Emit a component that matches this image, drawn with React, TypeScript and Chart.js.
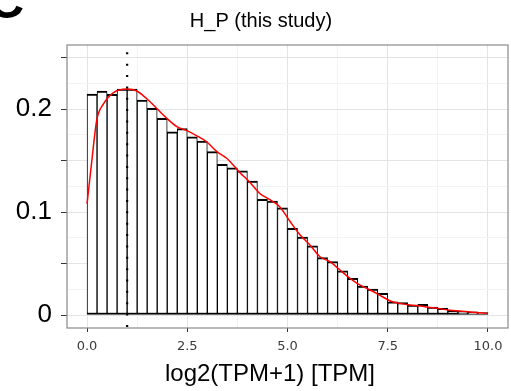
import { useEffect, useRef } from 'react';
import { Chart, registerables } from 'chart.js';

Chart.register(...registerables);

// ---- data ----
const BIN_WIDTH = 0.25;
const BIN_START = 0;
const binDensity = [
  0.2146, 0.2175, 0.2143, 0.2194, 0.2194, 0.2087, 0.2006, 0.1910, 0.1780, 0.1810,
  0.1730, 0.1690, 0.1586, 0.1463, 0.1430, 0.1400, 0.1300, 0.1123, 0.1107, 0.1042,
  0.0841, 0.0757, 0.0673, 0.0557, 0.0518, 0.0430, 0.0356, 0.0282, 0.0252, 0.0210,
  0.0129, 0.0120, 0.0097, 0.0104, 0.0078, 0.0065, 0.0046, 0.0036, 0.0030, 0.0023,
];
const densityX = [
  0, 0.12, 0.24, 0.41, 0.66, 1.0, 1.24, 1.49, 1.74, 1.99, 2.24, 2.49, 2.74, 2.99,
  3.24, 3.49, 3.82, 4.06, 4.31, 4.56, 4.81, 5.06, 5.31, 5.56, 5.81, 6.06, 6.31,
  6.56, 6.81, 7.06, 7.3, 7.55, 7.8, 8.05, 8.3, 8.55, 8.8, 9.05, 9.3, 9.55, 10,
];
const densityY = [
  0.108, 0.150, 0.189, 0.205, 0.216, 0.2194, 0.2175, 0.210, 0.2006, 0.191, 0.183,
  0.179, 0.174, 0.168, 0.1586, 0.152, 0.138, 0.129, 0.118, 0.112, 0.105, 0.091,
  0.078, 0.068, 0.0566, 0.0518, 0.0437, 0.0356, 0.029, 0.0243, 0.0194, 0.0139,
  0.0113, 0.0097, 0.0087, 0.0074, 0.0061, 0.0046, 0.0039, 0.003, 0.0016,
];
const vlineX = 1.0;

const xGridValues = [0, 1.25, 2.5, 3.75, 5, 6.25, 7.5, 8.75, 10];
const xTickValues = [0, 2.5, 5, 7.5, 10];
const xTickLabels = ['0.0', '2.5', '5.0', '7.5', '10.0'];
const yGridValues = [0, 0.025, 0.05, 0.075, 0.1, 0.125, 0.15, 0.175, 0.2, 0.225, 0.25];
const yTickValues = [0, 0.05, 0.1, 0.15, 0.2, 0.25];
const yLabelValues = [0, 0.1, 0.2];
const yLabelTexts = ['0', '0.1', '0.2'];

const X_MIN = -0.5;
const X_MAX = 10.5;
const Y_MIN = -0.0126;
const Y_MAX = 0.2622;

const TITLE = 'H_P (this study)';
const X_TITLE = 'log2(TPM+1) [TPM]';
const PANEL_LETTER = 'C';

const near = (a: number, b: number) => Math.abs(a - b) < 1e-6;
const inList = (v: number, list: number[]) => list.some((t) => near(t, v));

export default function App() {
  const ref = useRef<HTMLCanvasElement | null>(null);

  useEffect(() => {
    if (!ref.current) return;
    const bars = binDensity.map((v, i) => ({ x: BIN_START + (i + 0.5) * BIN_WIDTH, y: v }));
    const curve = densityX.map((x, i) => ({ x, y: densityY[i] }));

    const decor = {
      id: 'decor',
      afterDatasetsDraw(chart: any) {
        const { ctx, chartArea } = chart;
        ctx.save();
        ctx.strokeStyle = '#8a8a8a';
        ctx.lineWidth = 1.2;
        ctx.strokeRect(chartArea.left, chartArea.top, chartArea.right - chartArea.left, chartArea.bottom - chartArea.top);
        ctx.restore();
      },
      afterDraw(chart: any) {
        const { ctx } = chart;
        ctx.save();
        ctx.fillStyle = '#000';
        ctx.textAlign = 'center';
        ctx.textBaseline = 'alphabetic';
        ctx.font = '20px "Liberation Sans", Arial, sans-serif';
        ctx.fillText(TITLE, 261, 27);
        ctx.textBaseline = 'middle';
        ctx.font = '24px "Liberation Sans", Arial, sans-serif';
        ctx.fillText(X_TITLE, 270, 374);
        ctx.textAlign = 'left';
        ctx.textBaseline = 'alphabetic';
        ctx.font = 'bold 50px "Liberation Sans", Arial, sans-serif';
        ctx.fillText(PANEL_LETTER, -12, 18);
        ctx.restore();
      },
    };

    const chart = new Chart(ref.current, {
      type: 'bar',
      data: {
        datasets: [
          {
            type: 'line',
            data: [{ x: vlineX, y: Y_MAX }, { x: vlineX, y: Y_MIN }],
            borderColor: '#000',
            borderWidth: 2.2,
            borderDash: [2, 9.36],
            borderDashOffset: 4.06,
            pointRadius: 0,
            tension: 0,
            order: 1,
          } as any,
          {
            type: 'line',
            data: curve,
            borderColor: '#ff0000',
            borderWidth: 1.5,
            pointRadius: 0,
            cubicInterpolationMode: 'monotone',
            fill: false,
            order: 2,
          } as any,
          {
            type: 'bar',
            data: bars,
            backgroundColor: '#ffffff',
            borderColor: '#000000',
            borderWidth: { top: 2, bottom: 2, left: 1, right: 1 },
            borderSkipped: false,
            barPercentage: 1,
            categoryPercentage: 1,
            order: 3,
          } as any,
        ],
      },
      options: {
        animation: false,
        responsive: false,
        maintainAspectRatio: false,
        layout: { padding: { left: 0, top: 45, right: 3, bottom: 0 } },
        plugins: { legend: { display: false }, tooltip: { enabled: false }, title: { display: false } },
        scales: {
          x: {
            type: 'linear',
            min: X_MIN,
            max: X_MAX,
            offset: false,
            afterBuildTicks: (s: any) => {
              s.ticks = xGridValues.map((v) => ({ value: v }));
            },
            afterFit: (s: any) => {
              s.height = 63;
            },
            grid: {
              offset: false,
              drawTicks: true,
              tickLength: 4,
              lineWidth: 1,
              color: (c: any) => (inList(c.tick?.value, xTickValues) ? '#e4e4e4' : '#f3f3f3'),
              tickColor: (c: any) => (inList(c.tick?.value, xTickValues) ? '#333333' : 'rgba(0,0,0,0)'),
            },
            border: { display: false },
            ticks: {
              autoSkip: false,
              maxRotation: 0,
              padding: 7,
              color: '#3a3a3a',
              font: { family: '"DejaVu Sans", sans-serif', size: 13 },
              callback: (v: any) => {
                const i = xTickValues.findIndex((t) => near(t, Number(v)));
                return i >= 0 ? xTickLabels[i] : '';
              },
            },
            title: { display: false },
          },
          y: {
            type: 'linear',
            min: Y_MIN,
            max: Y_MAX,
            afterBuildTicks: (s: any) => {
              s.ticks = yGridValues.map((v) => ({ value: v }));
            },
            afterFit: (s: any) => {
              s.width = 67;
            },
            grid: {
              drawTicks: true,
              tickLength: 6,
              lineWidth: 1,
              color: (c: any) => (inList(c.tick?.value, yTickValues) ? '#e4e4e4' : '#f3f3f3'),
              tickColor: (c: any) => (inList(c.tick?.value, yTickValues) ? '#333333' : 'rgba(0,0,0,0)'),
            },
            border: { display: false },
            ticks: {
              autoSkip: false,
              padding: 9,
              color: '#000',
              font: { family: '"Liberation Sans", Arial, sans-serif', size: 26 },
              callback: (v: any) => {
                const i = yLabelValues.findIndex((t) => near(t, Number(v)));
                return i >= 0 ? yLabelTexts[i] : '';
              },
            },
          },
        },
      },
      plugins: [decor],
    } as any);

    return () => chart.destroy();
  }, []);

  return (
    <div style={{ position: 'absolute', left: 0, top: 0, width: 511, height: 391, background: '#fff' }}>
      <canvas ref={ref} width={511} height={391} style={{ display: 'block', width: 511, height: 391 }} />
    </div>
  );
}
